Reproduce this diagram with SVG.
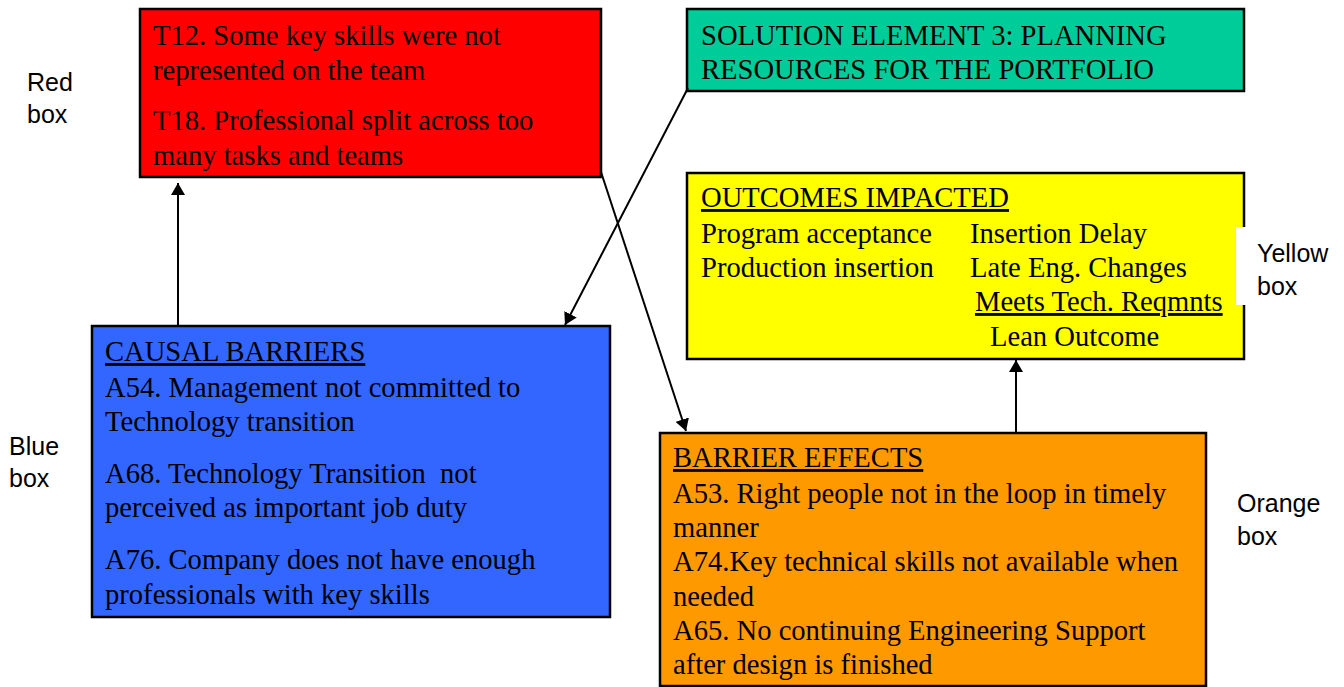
<svg xmlns="http://www.w3.org/2000/svg" width="1344" height="687" viewBox="0 0 1344 687">
<style>
.box{stroke:#000;stroke-width:2.5}
.t{font-family:"Liberation Serif","Times New Roman",serif;font-size:28.6px;fill:#000}
.u{text-decoration:underline}
.lbl{font-family:"Liberation Sans",Arial,sans-serif;font-size:25px;fill:#000}
.c{stroke:#000;stroke-width:2;fill:none}
</style>
<defs>
<marker id="ah" viewBox="0 0 12 14" refX="12" refY="7" markerWidth="12" markerHeight="14" markerUnits="userSpaceOnUse" orient="auto">
<path d="M0,0 L12,7 L0,14 Z" fill="#000"/>
</marker>
</defs>
<rect width="1344" height="687" fill="#fff"/>

<g id="red-box">
<rect class="box" x="140" y="9" width="461" height="168" fill="#ff0000"/>
<text class="t" x="153" y="45">T12. Some key skills were not</text>
<text class="t" x="153" y="80">represented on the team</text>
<text class="t" x="153" y="130">T18. Professional split across too</text>
<text class="t" x="153" y="165">many tasks and teams</text>
</g>

<g id="green-box">
<rect class="box" x="687" y="9" width="557" height="82" fill="#00cc99"/>
<text class="t" x="701" y="45">SOLUTION ELEMENT 3: PLANNING</text>
<text class="t" x="701" y="79">RESOURCES FOR THE PORTFOLIO</text>
</g>

<g id="yellow-box">
<rect class="box" x="687" y="173" width="557" height="186" fill="#ffff00"/>
<text class="t u" x="701" y="207">OUTCOMES IMPACTED</text>
<text class="t" x="701" y="243">Program acceptance</text>
<text class="t" x="970" y="243">Insertion Delay</text>
<text class="t" x="701" y="277">Production insertion</text>
<text class="t" x="970" y="277">Late Eng. Changes</text>
<text class="t u" x="975" y="311">Meets Tech. Reqmnts</text>
<text class="t" x="990" y="346">Lean Outcome</text>
</g>

<g id="blue-box">
<rect class="box" x="92" y="326" width="518" height="291" fill="#3366ff"/>
<text class="t u" x="105" y="361">CAUSAL BARRIERS</text>
<text class="t" x="105" y="397">A54. Management not committed to</text>
<text class="t" x="105" y="431">Technology transition</text>
<text class="t" x="105" y="483" xml:space="preserve">A68. Technology Transition  not</text>
<text class="t" x="105" y="517">perceived as important job duty</text>
<text class="t" x="105" y="569">A76. Company does not have enough</text>
<text class="t" x="105" y="604">professionals with key skills</text>
</g>

<g id="orange-box">
<rect class="box" x="660" y="433" width="546" height="253" fill="#ff9900"/>
<text class="t u" x="673" y="467">BARRIER EFFECTS</text>
<text class="t" x="673" y="503">A53. Right people not in the loop in timely</text>
<text class="t" x="673" y="537">manner</text>
<text class="t" x="673" y="571">A74.Key technical skills not available when</text>
<text class="t" x="673" y="606">needed</text>
<text class="t" x="673" y="640">A65. No continuing Engineering Support</text>
<text class="t" x="673" y="674">after design is finished</text>
</g>

<g id="connectors">
<line class="c" x1="178" y1="326" x2="178" y2="183" marker-end="url(#ah)"/>
<line class="c" x1="688" y1="88" x2="565" y2="325" marker-end="url(#ah)"/>
<line class="c" x1="601" y1="172" x2="686" y2="431" marker-end="url(#ah)"/>
<line class="c" x1="1016" y1="433" x2="1016" y2="360" marker-end="url(#ah)"/>
</g>

<g id="labels">
<text class="lbl" x="27" y="91">Red</text>
<text class="lbl" x="27" y="123">box</text>
<text class="lbl" x="9" y="455">Blue</text>
<text class="lbl" x="9" y="487">box</text>
<rect x="1236" y="227" width="95" height="78" fill="#fff"/>
<text class="lbl" x="1257" y="262">Yellow</text>
<text class="lbl" x="1257" y="295">box</text>
<text class="lbl" x="1237" y="512">Orange</text>
<text class="lbl" x="1237" y="545">box</text>
</g>
</svg>
